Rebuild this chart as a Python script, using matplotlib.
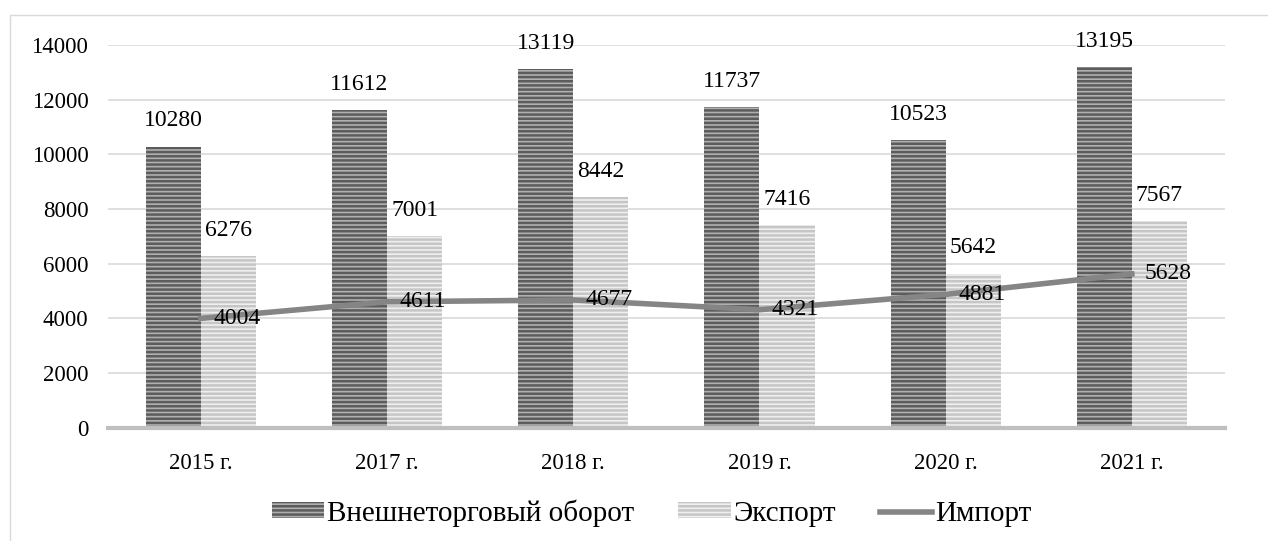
import numpy as np
import matplotlib.pyplot as plt
from matplotlib.patches import Rectangle

plt.rcParams['font.family'] = ['Liberation Serif', 'DejaVu Serif']
plt.rcParams['hatch.linewidth'] = 1.8

# Data
years = ['2015 г.', '2017 г.', '2018 г.', '2019 г.', '2020 г.', '2021 г.']
turnover = [10280, 11612, 13119, 11737, 10523, 13195]
export = [6276, 7001, 8442, 7416, 5642, 7567]
imports = [4004, 4611, 4677, 4321, 4881, 5628]

fig = plt.figure(figsize=(12.68, 5.41), dpi=100)
ax = fig.add_axes([0.085, 0.209, 0.881, 0.708])

# light frame round the whole chart
fig.patches.append(Rectangle((10 / 1268, -0.01), 1.0, 1 - 15 / 541 + 0.01,
                             transform=fig.transFigure, fill=False,
                             edgecolor='#d9d9d9', linewidth=1))

x = np.arange(len(years))
w = 0.296
b1 = ax.bar(x - w / 2, turnover, w, facecolor='#b0b0b0', edgecolor='#5c5c5c',
            hatch='----', linewidth=0, label='Внешнеторговый оборот', zorder=2)
b2 = ax.bar(x + w / 2, export, w, facecolor='#efefef', edgecolor='#c6c6c6',
            hatch='----', linewidth=0, label='Экспорт', zorder=2)
ln, = ax.plot(x, imports, color='#858585', linewidth=4, label='Импорт', zorder=3)

for xi, v in zip(x, turnover):
    ax.annotate(str(v), (xi - w / 2, v), xytext=(0, 11), textcoords='offset points',
                ha='center', va='bottom', fontsize=17)
for xi, v in zip(x, export):
    ax.annotate(str(v), (xi + w / 2, v), xytext=(0, 11), textcoords='offset points',
                ha='center', va='bottom', fontsize=17)
for xi, v in zip(x, imports):
    ax.annotate(str(v), (xi, v), xytext=(9, 0), textcoords='offset points',
                ha='left', va='center', fontsize=17, zorder=4)

ax.set_xlim(-0.5, len(years) - 0.5)
ax.set_ylim(0, 14000)
ax.set_yticks(np.arange(0, 14001, 2000))
ax.set_xticks(x)
ax.set_xticklabels(years)
ax.tick_params(axis='both', length=0, labelsize=16.5)
ax.tick_params(axis='x', pad=18)
ax.tick_params(axis='y', pad=14)
ax.yaxis.grid(True, color='#d9d9d9', linewidth=1.2, zorder=0)
ax.set_axisbelow(True)
for s in ['top', 'right', 'left']:
    ax.spines[s].set_visible(False)
ax.spines['bottom'].set_color('#bfbfbf')
ax.spines['bottom'].set_linewidth(3)
ax.spines['bottom'].set_zorder(4)

fig.legend(handles=[b1, b2, ln], loc='center', bbox_to_anchor=(0.514, 0.052),
           ncol=3, frameon=False, fontsize=21, handlelength=1.8, handleheight=0.45,
           handletextpad=0.1, columnspacing=1.5)

fig.savefig('out.png', dpi=100)
